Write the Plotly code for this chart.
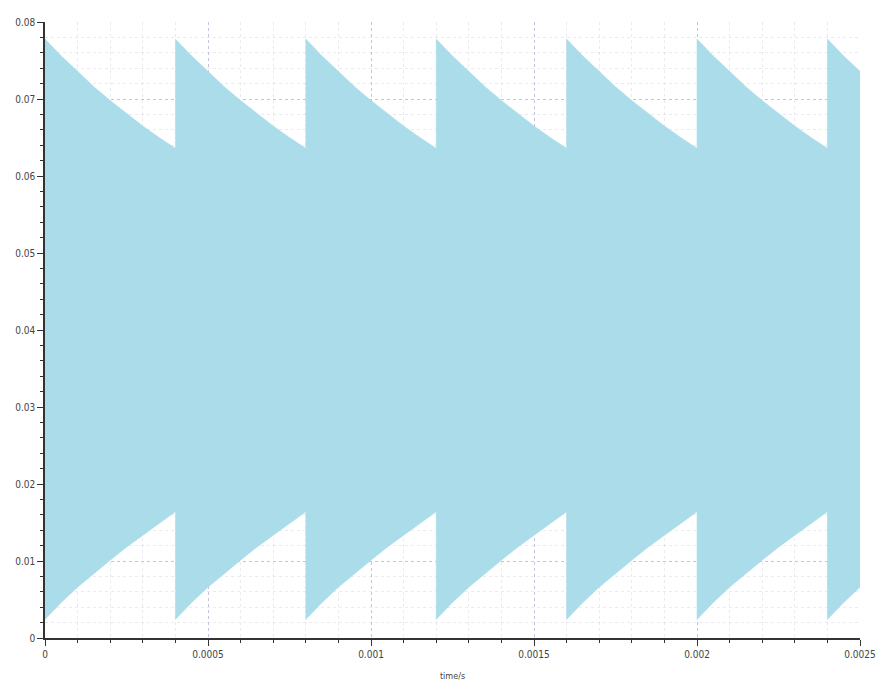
import numpy as np
import plotly.graph_objects as go

# ---- data ----
tooth_starts = [0.0, 0.0004, 0.0008, 0.0012, 0.0016, 0.0020, 0.0024]   # s, start of each sawtooth period
period = 0.0004
x_end = 0.0025
# envelope shape sampled within one period (fraction of period)
phase = [0.0, 0.125, 0.25, 0.375, 0.5, 0.625, 0.75, 0.875, 1.0]
upper_env = [0.0778, 0.0756, 0.0736, 0.0716, 0.0698, 0.0681, 0.0665, 0.0650, 0.0636]
lower_env = [0.0024, 0.0046, 0.0066, 0.0084, 0.0101, 0.0118, 0.0134, 0.0149, 0.0164]

x_tickvals = [0, 0.0005, 0.001, 0.0015, 0.002, 0.0025]
x_ticktext = ["0", "0.0005", "0.001", "0.0015", "0.002", "0.0025"]
y_tickvals = [0, 0.01, 0.02, 0.03, 0.04, 0.05, 0.06, 0.07, 0.08]
y_ticktext = ["0", "0.01", "0.02", "0.03", "0.04", "0.05", "0.06", "0.07", "0.08"]

# ---- build envelope polygon (sampled values, clipped at axis end) ----
ux, uy, lx, ly = [], [], [], []
for s in tooth_starts:
    for p, u, l in zip(phase, upper_env, lower_env):
        t = s + p * period
        if t > x_end + 1e-12:
            break
        ux.append(t); uy.append(u)
        lx.append(t); ly.append(l)
    if s + period > x_end:
        fr = (x_end - s) / period
        ux.append(x_end); uy.append(float(np.interp(fr, phase, upper_env)))
        lx.append(x_end); ly.append(float(np.interp(fr, phase, lower_env)))

poly_x = ux + lx[::-1] + [ux[0]]
poly_y = uy + ly[::-1] + [uy[0]]

fill_color = "#abdcea"

fig = go.Figure()
fig.add_trace(go.Scatter(
    x=poly_x, y=poly_y, mode="lines", fill="toself",
    fillcolor=fill_color, line=dict(color=fill_color, width=0.5),
    hoverinfo="skip", showlegend=False,
))

tick_font = dict(family="Liberation Sans Narrow, DejaVu Sans Condensed, Arial Narrow, sans-serif",
                 size=10, color="#444444")
grid_major = "rgba(170,160,200,0.55)"
grid_minor = "rgba(200,195,215,0.35)"

fig.update_layout(
    width=877, height=684,
    margin=dict(l=45, r=17, t=22, b=46),
    paper_bgcolor="white", plot_bgcolor="white",
    showlegend=False,
    xaxis=dict(
        range=[0, x_end], tickvals=x_tickvals, ticktext=x_ticktext, automargin=False,
        ticks="outside", ticklen=6, tickcolor="#333333", tickwidth=1,
        showline=True, linecolor="#333333", linewidth=1.5, mirror=False,
        showgrid=True, gridcolor=grid_major, griddash="dot", gridwidth=1,
        zeroline=False, tickfont=tick_font,
        title=dict(text="time/s", font=dict(family="Liberation Sans Narrow, DejaVu Sans Condensed, sans-serif",
                                            size=9, color="#444444"), standoff=14),
        minor=dict(tickmode="linear", tick0=0, dtick=0.0001, ticks="outside", ticklen=3,
                   tickcolor="#333333", showgrid=True, gridcolor=grid_minor, griddash="dot"),
    ),
    yaxis=dict(
        range=[0, 0.08], tickvals=y_tickvals, ticktext=y_ticktext, automargin=False,
        ticks="outside", ticklen=6, tickcolor="#333333", tickwidth=1,
        showline=True, linecolor="#333333", linewidth=1.5, mirror=False,
        showgrid=True, gridcolor=grid_major, griddash="dot", gridwidth=1,
        zeroline=False, tickfont=tick_font,
        minor=dict(tickmode="linear", tick0=0, dtick=0.002, ticks="outside", ticklen=3,
                   tickcolor="#333333", showgrid=True, gridcolor=grid_minor, griddash="dot"),
    ),
)

fig.write_html("out.html")
